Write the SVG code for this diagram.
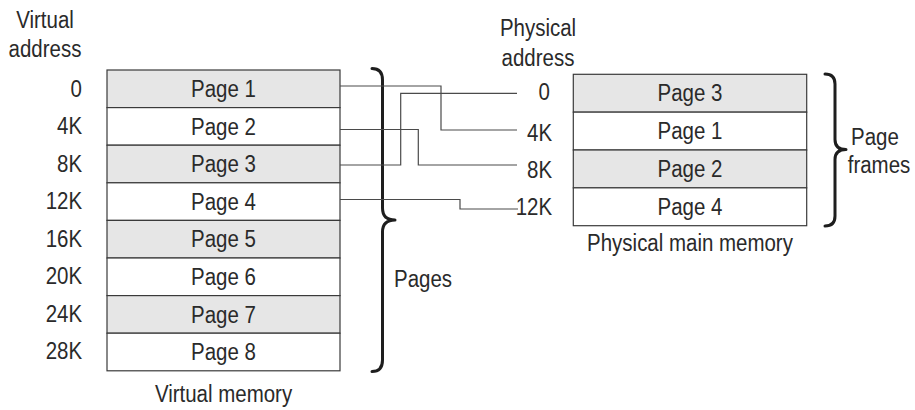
<svg xmlns="http://www.w3.org/2000/svg" width="915" height="410" viewBox="0 0 915 410">
  <style>
    text { font-family: "Liberation Sans", Arial, sans-serif; font-size: 23px; fill: #2a2a2a;
           transform-box: fill-box; transform-origin: center; transform: scaleX(0.89); }
    .mid { text-anchor: middle; }
    .end { text-anchor: end; transform-origin: right center; }
    .start { transform-origin: left center; }
    .cell { stroke: #3a3a3a; stroke-width: 1.2; }
    .shade { fill: #e6e6e6; }
    .plain { fill: #ffffff; }
    .wire { fill: none; stroke: #4a4a4a; stroke-width: 1.2; }
    .brace { fill: none; stroke: #1e1e1e; stroke-width: 3; stroke-linecap: round; stroke-linejoin: round; }
  </style>

  <!-- Virtual address column -->
  <g id="virtual-address-labels">
    <text class="mid" x="45" y="28">Virtual</text>
    <text class="mid" x="45" y="57">address</text>
    <text class="end" x="82" y="97">0</text>
    <text class="end" x="82" y="134.5">4K</text>
    <text class="end" x="82" y="172">8K</text>
    <text class="end" x="82" y="209.5">12K</text>
    <text class="end" x="82" y="247">16K</text>
    <text class="end" x="82" y="284.5">20K</text>
    <text class="end" x="82" y="322">24K</text>
    <text class="end" x="82" y="359.5">28K</text>
  </g>

  <!-- Virtual memory: eight pages -->
  <g id="virtual-memory">
    <rect class="cell shade" x="107" y="70" width="233" height="37.6"/>
    <rect class="cell plain" x="107" y="107.6" width="233" height="37.6"/>
    <rect class="cell shade" x="107" y="145.2" width="233" height="37.6"/>
    <rect class="cell plain" x="107" y="182.8" width="233" height="37.6"/>
    <rect class="cell shade" x="107" y="220.4" width="233" height="37.6"/>
    <rect class="cell plain" x="107" y="258" width="233" height="37.6"/>
    <rect class="cell shade" x="107" y="295.6" width="233" height="37.6"/>
    <rect class="cell plain" x="107" y="333.2" width="233" height="37.6"/>
    <text class="mid" x="223.5" y="97">Page 1</text>
    <text class="mid" x="223.5" y="134.6">Page 2</text>
    <text class="mid" x="223.5" y="172.2">Page 3</text>
    <text class="mid" x="223.5" y="209.8">Page 4</text>
    <text class="mid" x="223.5" y="247.4">Page 5</text>
    <text class="mid" x="223.5" y="285">Page 6</text>
    <text class="mid" x="223.5" y="322.6">Page 7</text>
    <text class="mid" x="223.5" y="360.2">Page 8</text>
    <text class="mid" x="223.5" y="402">Virtual memory</text>
  </g>

  <!-- Pages brace -->
  <g id="pages-brace">
    <path class="brace" d="M372,68.5 Q382.5,68.5 382.5,80 L382.5,208 Q382.5,220 395,220 Q382.5,220 382.5,232 L382.5,360 Q382.5,371.5 372,371.5"/>
    <text class="start" x="394" y="287">Pages</text>
  </g>

  <!-- Physical address column -->
  <g id="physical-address-labels">
    <text class="mid" x="538" y="36">Physical</text>
    <text class="mid" x="538" y="66">address</text>
    <text class="end" x="550" y="100">0</text>
    <text class="end" x="552" y="141.5">4K</text>
    <text class="end" x="552" y="178">8K</text>
    <text class="end" x="552" y="215">12K</text>
  </g>

  <!-- Physical main memory: four page frames -->
  <g id="physical-memory">
    <rect class="cell shade" x="573.3" y="74.3" width="233.4" height="37.85"/>
    <rect class="cell plain" x="573.3" y="112.15" width="233.4" height="37.85"/>
    <rect class="cell shade" x="573.3" y="150" width="233.4" height="37.85"/>
    <rect class="cell plain" x="573.3" y="187.85" width="233.4" height="37.85"/>
    <text class="mid" x="690" y="101.5">Page 3</text>
    <text class="mid" x="690" y="139.3">Page 1</text>
    <text class="mid" x="690" y="177.2">Page 2</text>
    <text class="mid" x="690" y="215">Page 4</text>
    <text class="mid" x="690" y="251">Physical main memory</text>
  </g>

  <!-- Page frames brace -->
  <g id="frames-brace">
    <path class="brace" d="M825,74 Q835,74 835,84 L835,139.5 Q835,149.5 846,149.5 Q835,149.5 835,159.5 L835,216 Q835,226 825,226"/>
    <text class="mid" x="875" y="145">Page</text>
    <text class="mid" x="879" y="173">frames</text>
  </g>

  <!-- Page-to-frame mapping lines -->
  <g id="connectors">
    <polyline class="wire" points="340,86 441,86 441,130 517,130"/>
    <polyline class="wire" points="340,129.5 418.3,129.5 418.3,165 517,165"/>
    <polyline class="wire" points="340,165 400.7,165 400.7,93.3 517,93.3"/>
    <polyline class="wire" points="340,199.5 460,199.5 460,209 518,209"/>
  </g>
</svg>
